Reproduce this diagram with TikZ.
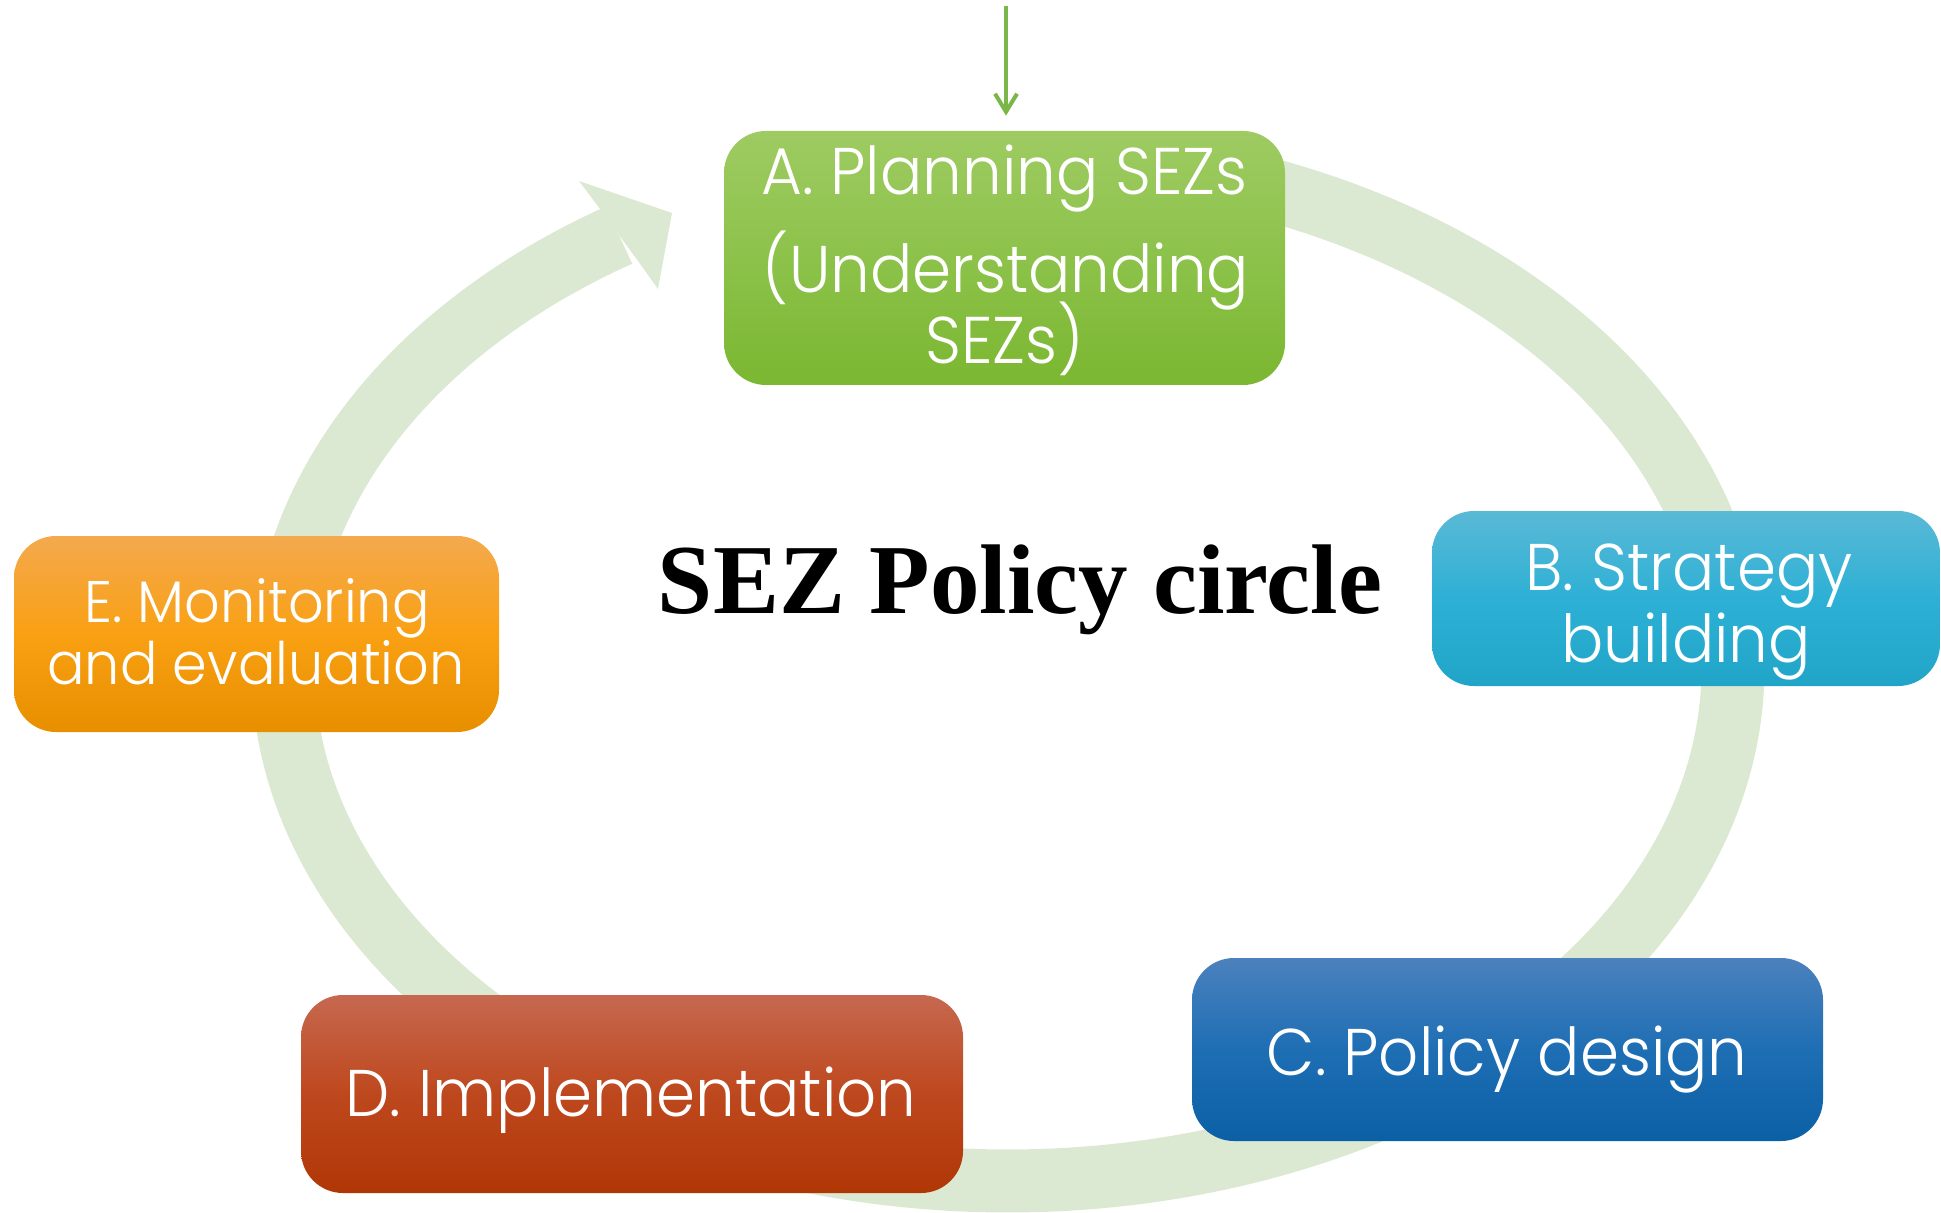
\documentclass[tikz,border=0pt]{standalone}
\usepackage{fontspec}
\setmainfont{Liberation Serif}
\newfontfamily\boxfont{Poppins Light}[FakeStretch=0.95]
\usetikzlibrary{arrows.meta}
\definecolor{bandc}{RGB}{220,233,210}
\definecolor{arrowg}{RGB}{122,182,72}
\definecolor{Atop}{RGB}{158,203,98}\definecolor{Amid}{RGB}{140,194,74}\definecolor{Abot}{RGB}{123,183,49}
\definecolor{Btop}{RGB}{90,185,214}\definecolor{Bmid}{RGB}{45,176,213}\definecolor{Bbot}{RGB}{32,165,200}
\definecolor{Ctop}{RGB}{76,129,189}\definecolor{Cmid}{RGB}{30,110,180}\definecolor{Cbot}{RGB}{11,96,165}
\definecolor{Dtop}{RGB}{198,104,79}\definecolor{Dmid}{RGB}{190,72,30}\definecolor{Dbot}{RGB}{176,54,5}
\definecolor{Etop}{RGB}{244,169,78}\definecolor{Emid}{RGB}{249,160,19}\definecolor{Ebot}{RGB}{232,143,0}
\tikzset{
  box/.style={rounded corners=21pt, inner sep=0pt, draw=none},
  btxt/.style={text=white, font=\boxfont\fontsize{33}{40}\selectfont, anchor=base, inner sep=0pt},
  stxt/.style={text=white, font=\boxfont\fontsize{29.3}{35}\selectfont, anchor=base, inner sep=0pt},
  cycleband/.style={draw=bandc, line width=31.5pt},
  toparrow/.style={draw=arrowg, line width=2pt, -{Straight Barb[length=9pt,width=11pt]}},
}
\begin{document}
\begin{tikzpicture}[x=0.5pt,y=-0.5pt]
\useasboundingbox (0,0) rectangle (1941,1213);
% cycle band
\draw[cycleband] plot[domain=78:-237.55, samples=180, smooth, variable=\t] ({1008+725*cos(\t)}, {668-513*sin(\t)});
\fill[bandc] (600,209) -- (579,181) -- (672,213) -- (658,289) -- (638,261) -- cycle;
% boxes
\node[box, top color=Atop, bottom color=Abot, middle color=Amid, minimum width=280.5pt, minimum height=127pt] (A) at (1004.5,258) {};
\node[box, top color=Btop, bottom color=Bbot, middle color=Bmid, minimum width=254pt, minimum height=87.5pt] (B) at (1686,598.5) {};
\node[box, top color=Ctop, bottom color=Cbot, middle color=Cmid, minimum width=315.5pt, minimum height=91.5pt] (C) at (1507.5,1049.5) {};
\node[box, top color=Dtop, bottom color=Dbot, middle color=Dmid, minimum width=331pt, minimum height=99pt] (D) at (632,1094) {};
\node[box, top color=Etop, bottom color=Ebot, middle color=Emid, minimum width=242.5pt, minimum height=98pt] (E) at (256.5,634) {};
% texts
\node[btxt] (tA1) at (1004.5,195) {A. Planning SEZs};
\node[btxt] (tA2) at (1006,293) {(Understanding};
\node[btxt] (tA3) at (1004.5,364) {SEZs)};
\node[btxt] (tB1) at (1689,590) {B. Strategy};
\node[btxt] (tB2) at (1686,662) {building};
\node[btxt] (tC) at (1507,1075) {C. Policy design};
\node[btxt] (tD) at (631,1116) {D. Implementation};
\node[stxt] (tE1) at (257,622) {E. Monitoring};
\node[stxt] (tE2) at (256,684) {and evaluation};
\node[font=\bfseries\fontsize{49.5}{59}\selectfont, anchor=base, inner sep=0pt] (title) at (1020,613) {SEZ Policy circle};
% top arrow
\coordinate (src) at (1006,6);
\draw[toparrow, shorten >=7.5pt] (src) -- (src |- A.north);
\end{tikzpicture}
\end{document}
